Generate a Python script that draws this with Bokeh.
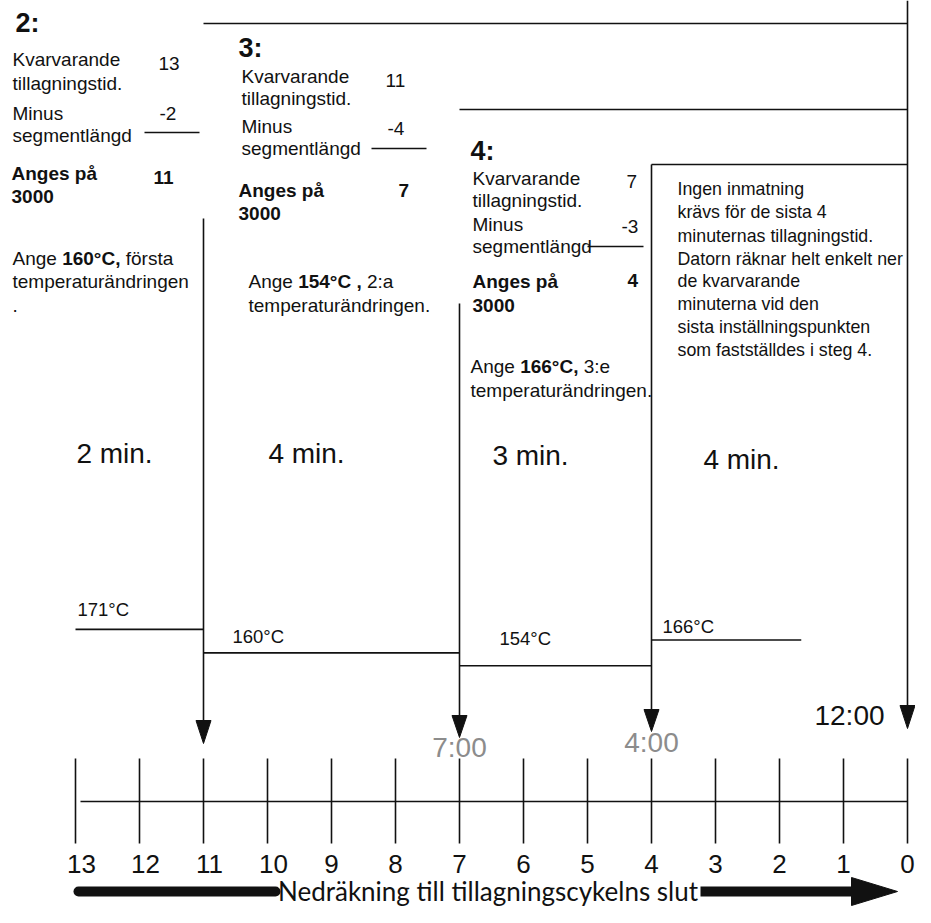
from bokeh.plotting import figure
from bokeh.models import Range1d, ColumnDataSource
from bokeh.core.properties import value, field
from bokeh.embed import file_html
from bokeh.resources import INLINE

# ---------------- data ----------------
tick_minutes = [13, 12, 11, 10, 9, 8, 7, 6, 5, 4, 3, 2, 1, 0]
tick_labels = ["13", "12", "11", "10", "9", "8", "7", "6", "5", "4", "3", "2", "1", "0"]

seg_start = [13, 11, 7, 4]
seg_end = [11, 7, 4, 0]
seg_labels = ["2 min.", "4 min.", "3 min.", "4 min."]

temps = [171, 160, 154, 166]
temp_labels = ["171°C", "160°C", "154°C", "166°C"]
temp_line_end = [11, 7, 4, 1.66]

marker_minutes = [11, 7, 4, 0]
marker_labels = ["", "7:00", "4:00", "12:00"]

step_titles = ["2:", "3:", "4:"]
remaining = ["13", "11", "7"]
minus_len = ["-2", "-4", "-3"]
entered = ["11", "7", "4"]
set_temp = ["160°C,", "154°C ,", "166°C,"]
set_suffix = ["första", "2:a", "3:e"]
set_tail = [["temperaturändringen", "."], ["temperaturändringen."], ["temperaturändringen."]]

info_lines = ["Ingen inmatning", "krävs för de sista 4", "minuternas tillagningstid.",
              "Datorn räknar helt enkelt ner", "de kvarvarande", "minuterna vid den",
              "sista inställningspunkten", "som fastställdes i steg 4."]

axis_title = "Nedräkning till tillagningscykelns slut"

# ---------------- layout ----------------
W, H = 915, 907
PPM = 64.0          # pixels per minute
X0 = 907            # x of minute 0
INK = "#111111"
LW = 1.6
FONT = "Liberation Sans"
BASE_FIX = 0.36     # baseline correction (em)

p = figure(width=W, height=H, output_backend="svg", toolbar_location=None,
           x_range=Range1d(X0 / PPM, (X0 - W) / PPM),
           y_range=Range1d(H, 0),
           x_axis_location=None, y_axis_location=None,
           min_border=0, outline_line_color=None)
p.grid.visible = False
p.background_fill_color = "white"
p.border_fill_color = "white"
p.extra_x_ranges = {"px": Range1d(0, W)}
T_REF, Y_REF, PX_PER_DEG = 162.75, 646.5, 2.141
p.extra_y_ranges = {"temp": Range1d(T_REF - (H - Y_REF) / PX_PER_DEG,
                                    T_REF + Y_REF / PX_PER_DEG)}

# timeline ticks and axis line
n = len(tick_minutes)
p.segment(x0=tick_minutes, y0=[758] * n, x1=tick_minutes, y1=[843] * n,
          line_color=INK, line_width=LW)
p.segment(x0=[tick_minutes[0] - 5 / PPM], y0=[801], x1=[tick_minutes[-1]], y1=[801],
          line_color=INK, line_width=LW)

# arrows down to the timeline
shaft_top = [218, 303, 164, 0]
head_top = [720, 715, 709, 705]
head_tip = [743, 737, 731, 728]
p.segment(x0=marker_minutes, y0=shaft_top, x1=marker_minutes, y1=head_top,
          line_color=INK, line_width=LW)
hw = 7.5 / PPM
p.patches(xs=[[m + hw, m - hw, m] for m in marker_minutes],
          ys=[[ht, ht, tp] for ht, tp in zip(head_top, head_tip)],
          fill_color=INK, line_color=INK, line_width=1)

# connectors at the top
conn_y = [23, 109, 164]
p.segment(x0=marker_minutes[:3], y0=conn_y, x1=[marker_minutes[3]] * 3, y1=conn_y,
          line_color=INK, line_width=LW)

# subtraction rules
p.segment(x0=[144, 371, 587], y0=[132, 148, 246], x1=[199, 426, 643], y1=[132, 148, 246],
          x_range_name="px", line_color=INK, line_width=LW)

# temperature profile
p.segment(x0=seg_start, y0=temps, x1=temp_line_end, y1=temps, y_range_name="temp",
          line_color=INK, line_width=LW)

# bottom arrow
AY = 891
p.segment(x0=[78], y0=[AY], x1=[275], y1=[AY], x_range_name="px",
          line_color=INK, line_width=10, line_cap="round")
p.segment(x0=[700], y0=[AY], x1=[853], y1=[AY], x_range_name="px",
          line_color=INK, line_width=10, line_cap="butt")
p.patch(x=[851, 851, 897], y=[AY - 14, AY + 14, AY], x_range_name="px",
        fill_color=INK, line_color=INK)

# ---------------- texts in pixels ----------------
REG = {'A': 667, 'n': 556, 'g': 556, 'e': 556, ' ': 278}
BOLD = {'1': 556, '6': 556, '0': 556, '5': 556, '4': 556, '°': 400, 'C': 722, ',': 278, ' ': 278}


def tw(s, table, size):
    return sum(table[c] for c in s) * size / 1000.0


rows = dict(x=[], y=[], text=[], size=[], style=[], color=[], font=[], align=[])


def add(x, y, t, size=19, style="normal", color=INK, font=FONT, align="left"):
    rows["x"].append(x)
    rows["y"].append(y - BASE_FIX * size)
    rows["text"].append(t)
    rows["size"].append("%gpx" % size)
    rows["style"].append(style)
    rows["color"].append(color)
    rows["font"].append(font)
    rows["align"].append(align)


step_pos = [
    dict(title=(15, 32), kv=(12, 66, 90), rem=(158, 70), mi=(12, 120, 142), mv=(159, 120),
         an=(11, 180, 203), ent=(153, 184), ange=(12, 265), tail=288),
    dict(title=(238, 57), kv=(241, 83, 105), rem=(385, 87), mi=(241, 133, 155), mv=(387, 135),
         an=(238, 197, 220), ent=(398, 197), ange=(248, 288), tail=312),
    dict(title=(470, 160), kv=(472, 185, 207), rem=(626, 188), mi=(472, 231, 253), mv=(621, 233),
         an=(472, 288, 312), ent=(627, 287), ange=(470, 373), tail=397),
]

for i, sp in enumerate(step_pos):
    add(sp["title"][0], sp["title"][1], step_titles[i], size=27, style="bold")
    add(sp["kv"][0], sp["kv"][1], "Kvarvarande")
    add(sp["kv"][0], sp["kv"][2], "tillagningstid.")
    add(sp["rem"][0], sp["rem"][1], remaining[i])
    add(sp["mi"][0], sp["mi"][1], "Minus")
    add(sp["mi"][0], sp["mi"][2], "segmentlängd")
    add(sp["mv"][0], sp["mv"][1], minus_len[i])
    add(sp["an"][0], sp["an"][1], "Anges på", style="bold")
    add(sp["an"][0], sp["an"][2], "3000", style="bold")
    add(sp["ent"][0], sp["ent"][1], entered[i], style="bold")
    ax, ay = sp["ange"]
    w1 = tw("Ange ", REG, 19)
    w2 = tw(set_temp[i], BOLD, 19)
    w3 = tw(" ", REG, 19)
    add(ax, ay, "Ange")
    add(ax + w1, ay, set_temp[i], style="bold")
    add(ax + w1 + w2 + w3, ay, set_suffix[i])
    for k, line in enumerate(set_tail[i]):
        add(ax, sp["tail"] + 24 * k, line)

info_y = [195, 218, 242, 265, 287, 310, 333, 356]
for yy, line in zip(info_y, info_lines):
    add(677, yy, line, size=17.8)

add(487.5, 900, axis_title, size=26, font="Lato", align="center")

src_px = ColumnDataSource(rows)
p.text(x="x", y="y", text="text", source=src_px, x_range_name="px",
       text_font=field("font"), text_font_size=field("size"), text_font_style=field("style"),
       text_color=field("color"), text_align=field("align"), text_baseline="alphabetic")

# ---------------- texts anchored on minutes ----------------
mrows = dict(x=[], y=[], text=[], size=[], color=[], xo=[], align=[])


def madd(x, y, t, size, xo=0, color=INK, align="center"):
    mrows["x"].append(x)
    mrows["y"].append(y - BASE_FIX * size)
    mrows["text"].append(t)
    mrows["size"].append("%gpx" % size)
    mrows["color"].append(color)
    mrows["xo"].append(xo)
    mrows["align"].append(align)


for m, lab in zip(tick_minutes, tick_labels):
    madd(m, 873, lab, 26, xo=6 if len(lab) > 1 else 0)

seg_xo = [-25, -25, -25, -38]
seg_base = [463, 463, 465, 469]
for s, e, lab, xo, yb in zip(seg_start, seg_end, seg_labels, seg_xo, seg_base):
    madd((s + e) / 2.0, yb, lab, 28, xo=xo)

temp_xo = [2, 29, 40, 11]
temp_base = [616, 643, 645, 633]
for s, lab, xo, yb in zip(seg_start, temp_labels, temp_xo, temp_base):
    madd(s, yb, lab, 18.5, xo=xo, align="left")

mark_base = [0, 757, 752, 725]
mark_color = [INK, "#8c8c8c", "#8c8c8c", INK]
mark_xo = [0, 0, 0, -58]
for m, lab, yb, c, xo in zip(marker_minutes, marker_labels, mark_base, mark_color, mark_xo):
    if lab:
        madd(m, yb, lab, 28, xo=xo, color=c)

src_m = ColumnDataSource(mrows)
p.text(x="x", y="y", text="text", source=src_m, x_offset="xo",
       text_font=value(FONT), text_font_size=field("size"),
       text_color=field("color"), text_align=field("align"), text_baseline="alphabetic")

open("out.html", "w").write(file_html(p, INLINE))
